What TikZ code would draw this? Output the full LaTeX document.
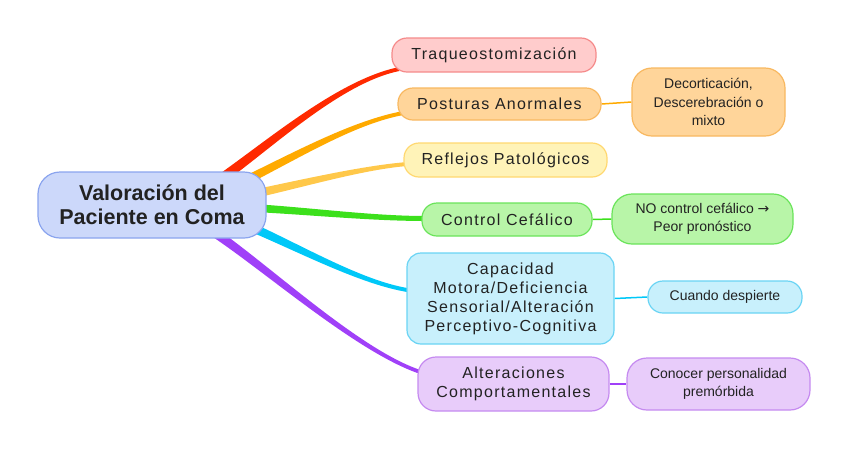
\documentclass[tikz,border=0pt]{standalone}
\usepackage{fontspec}
\setmainfont{Liberation Sans}
\newfontfamily\arrowfont{DejaVu Sans}
\usetikzlibrary{calc}
\pgfdeclarelayer{background}
\pgfsetlayers{background,main}
\definecolor{cRed}{HTML}{FF2A00}
\definecolor{cOrange}{HTML}{FFAA00}
\definecolor{cYellow}{HTML}{FFC84A}
\definecolor{cGreen}{HTML}{3CE01C}
\definecolor{cCyan}{HTML}{00C8F8}
\definecolor{cPurple}{HTML}{A040F8}
\definecolor{fRoot}{HTML}{CCD8FA}\definecolor{bRoot}{HTML}{8AA4EE}
\definecolor{fRed}{HTML}{FFCCCC}\definecolor{bRed}{HTML}{F58A8A}
\definecolor{fOrange}{HTML}{FFD59A}\definecolor{bOrange}{HTML}{F8B860}
\definecolor{fYellow}{HTML}{FFF3B8}\definecolor{bYellow}{HTML}{FFD870}
\definecolor{fGreen}{HTML}{B8F5A8}\definecolor{bGreen}{HTML}{6AE45A}
\definecolor{fCyan}{HTML}{C8F0FC}\definecolor{bCyan}{HTML}{6AD4F4}
\definecolor{fPurple}{HTML}{E8CCFA}\definecolor{bPurple}{HTML}{C58AF0}
\definecolor{txt}{HTML}{222222}
\newcommand\branch[7]{%
 \fill[#1] ($(#2)+(0,-#6)$) .. controls ($(#2)+(#4)+(0,-#6)$) and ($(#3)+(#5)+(0,-#7)$) .. ($(#3)+(0,-#7)$)
   -- ($(#3)+(0,#7)$) .. controls ($(#3)+(#5)+(0,#7)$) and ($(#2)+(#4)+(0,#6)$) .. ($(#2)+(0,#6)$) -- cycle;}
\begin{document}
\begin{tikzpicture}[x=1pt,y=-1pt,
  box/.style={draw, line width=1.2pt, rounded corners=13pt, inner sep=0pt, align=center, text=txt},
  child/.style={box, font=\fontsize{16}{19}\addfontfeatures{LetterSpace=8}\selectfont},
  side/.style={box, font=\fontsize{14}{18.5}\selectfont},
  link/.style={line width=1.5pt}]
\useasboundingbox (0,0) rectangle (848,451);
\node[box, fill=fRoot, draw=bRoot, minimum width=228pt, minimum height=66pt, rounded corners=22pt,
  font=\fontsize{21.5}{24}\bfseries\selectfont] (root) at (152,205) {Valoración del\\Paciente en Coma};
\node[child, fill=fRed, draw=bRed, minimum width=204pt, minimum height=34pt, rounded corners=15pt] (traq) at (494,55) {Traqueostomización};
\node[child, fill=fOrange, draw=bOrange, minimum width=203pt, minimum height=32pt, rounded corners=15pt] (post) at (499.5,104) {Posturas Anormales};
\node[child, fill=fYellow, draw=bYellow, minimum width=203pt, minimum height=34pt, rounded corners=15pt] (refl) at (505.5,160) {Reflejos Patológicos};
\node[child, fill=fGreen, draw=bGreen, minimum width=170pt, minimum height=33pt, rounded corners=15pt] (ctrl) at (507,219.5) {Control Cefálico};
\node[child, fill=fCyan, draw=bCyan, minimum width=207pt, minimum height=91pt, rounded corners=14pt] (capa) at (510.5,298.5) {Capacidad\\Motora/Deficiencia\\Sensorial/Alteración\\Perceptivo-Cognitiva};
\node[child, fill=fPurple, draw=bPurple, minimum width=191pt, minimum height=54pt, rounded corners=18pt] (alte) at (513.5,384) {Alteraciones\\Comportamentales};
\node[side, fill=fOrange, draw=bOrange, minimum width=153pt, minimum height=68pt, rounded corners=20pt] (deco) at (708.5,102) {Decorticación,\\Descerebración o\\mixto};
\node[side, fill=fGreen, draw=bGreen, minimum width=181pt, minimum height=50pt, rounded corners=20pt] (noct) at (702.5,219) {NO control cefálico {\arrowfont →}\\Peor pronóstico};
\node[side, fill=fCyan, draw=bCyan, minimum width=154pt, minimum height=32pt, rounded corners=15pt] (cuan) at (725,297) {Cuando despierte};
\node[side, fill=fPurple, draw=bPurple, minimum width=183pt, minimum height=52pt, rounded corners=20pt] (cono) at (718.5,384) {Conocer personalidad\\premórbida};
\begin{pgfonlayer}{background}
\coordinate (sRed) at ($(root.center)+(66,-24)$);
\coordinate (sOra) at ($(root.center)+(72,-14)$);
\coordinate (sYel) at ($(root.center)+(78,-6)$);
\coordinate (sGre) at ($(root.center)+(80,2)$);
\coordinate (sCya) at ($(root.center)+(74,12)$);
\coordinate (sPur) at ($(root.center)+(54,22)$);
\coordinate (eRed) at ($(traq.west)+(8,14)$);
\coordinate (eOra) at ($(post.west)+(6,9)$);
\coordinate (eYel) at ($(refl.west)+(4,4)$);
\coordinate (eGre) at ($(ctrl.west)+(4,-1)$);
\coordinate (eCya) at ($(capa.west)+(4,-8)$);
\coordinate (ePur) at ($(alte.west)+(6,-11)$);
\branch{cRed}{sRed}{eRed}{50,-35}{-60,12}{6}{2}
\branch{cOrange}{sOra}{eOra}{60,-28}{-55,10}{5}{2}
\branch{cYellow}{sYel}{eYel}{60,-12}{-50,4}{4.5}{2}
\branch{cGreen}{sGre}{eGre}{60,2}{-60,0}{4}{2.5}
\branch{cCyan}{sCya}{eCya}{55,20}{-55,-8}{5}{2}
\branch{cPurple}{sPur}{ePur}{55,35}{-65,-20}{5.5}{2}
\draw[link, draw=cOrange] (post.east) -- (deco.west);
\draw[link, draw=cGreen] (ctrl.east) -- (noct.west);
\draw[link, draw=cCyan] (capa.east) -- (cuan.west);
\draw[link, draw=cPurple] (alte.east) -- (cono.west);
\end{pgfonlayer}
\end{tikzpicture}
\end{document}
